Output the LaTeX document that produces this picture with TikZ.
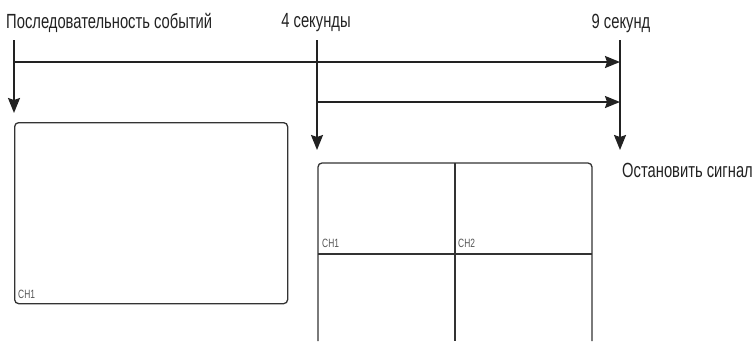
\documentclass[tikz,border=0pt]{standalone}
\usepackage{fontspec}
\setmainfont{Liberation Sans}
\newfontfamily\condfont[FakeStretch=0.72]{Liberation Sans}
\newfontfamily\chfont[FakeStretch=0.7]{Liberation Sans}
\usetikzlibrary{arrows.meta}
\definecolor{ink}{HTML}{222222}
\definecolor{boxline}{HTML}{333333}
\definecolor{chgray}{HTML}{555555}
\begin{document}
\begin{tikzpicture}[x=1pt,y=-1pt,
  lbl/.style={inner sep=0pt, font=\condfont\fontsize{20.5}{20.5}\selectfont, text=ink},
  chlbl/.style={inner sep=0pt, anchor=base west, font=\chfont\fontsize{12}{12}\selectfont, text=chgray},
  flow/.style={draw=ink, line width=1.8pt, -{Stealth[length=15pt,width=12pt,inset=2pt]}},
  screen/.style={draw=boxline, line width=1.3pt, rounded corners=4pt}]
\useasboundingbox (0,0) rectangle (754,341);
% labels
\node[lbl, anchor=west] (seq) at (6,23) {Последовательность событий};
\node[lbl] (sec4) at (316,23) {4 секунды};
\node[lbl] (sec9) at (621,23) {9 секунд};
\node[lbl, anchor=west] (stop) at (622,170) {Остановить сигнал};
% coordinates
\coordinate (a0) at (14,40);
\coordinate (a1) at (14,113);
\coordinate (h1s) at (14,62);
\coordinate (h1e) at (620,62);
\coordinate (b0) at (317,40);
\coordinate (b1) at (317,150);
\coordinate (h2s) at (317,102);
\coordinate (h2e) at (620,102);
\coordinate (c0) at (620,40);
\coordinate (c1) at (620,150);
% arrows
\draw[flow] (a0) -- (a1);
\draw[flow] (h1s) -- (h1e);
\draw[flow] (b0) -- (b1);
\draw[flow] (h2s) -- (h2e);
\draw[flow] (c0) -- (c1);
% left screen
\node[screen, minimum width=273pt, minimum height=181pt, anchor=north west, inner sep=0pt] (scr1) at (14,122) {};
\node[chlbl] (ch1a) at (18,298) {CH1};
% right screen (quad, bottom cut off)
\coordinate (q0) at (318,341);
\coordinate (q1) at (318,163);
\coordinate (q2) at (592,163);
\coordinate (q3) at (592,341);
\draw[screen] (q0) -- (q1) -- (q2) -- (q3);
\coordinate (m0) at (455,163);
\coordinate (m1) at (455,341);
\coordinate (n0) at (318,254);
\coordinate (n1) at (592,254);
\draw[draw=boxline, line width=1.3pt] (m0) -- (m1);
\draw[draw=boxline, line width=1.3pt] (n0) -- (n1);
\node[chlbl] (ch1b) at (322,247) {CH1};
\node[chlbl] (ch2b) at (458,247) {CH2};
\end{tikzpicture}
\end{document}
